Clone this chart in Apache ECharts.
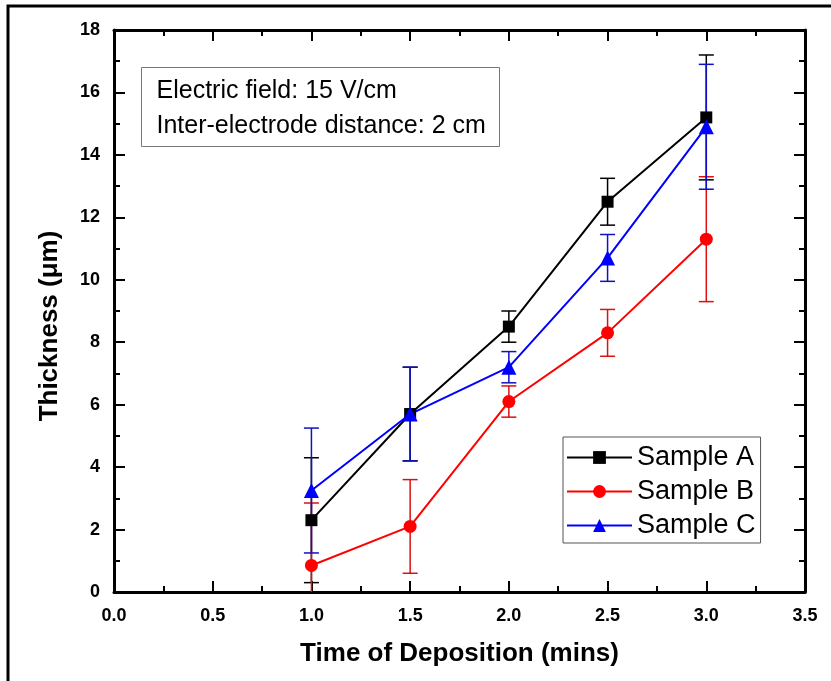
<!DOCTYPE html>
<html>
<head>
<meta charset="utf-8">
<title>Thickness vs time</title>
<script src="https://cdn.jsdelivr.net/npm/echarts@6/dist/echarts.min.js"></script>
<style>
  html, body { margin: 0; padding: 0; background: #fff; }
  #chart { width: 831px; height: 681px; }
</style>
</head>
<body>
<div id="chart"></div>
<script>
// time of deposition (mins)
var times = [1.0, 1.5, 2.0, 2.5, 3.0];
// thickness (um) and error half-widths
var sampleA = [2.3, 5.7, 8.5, 12.5, 15.2];
var errA    = [2.0, 1.5, 0.5, 0.75, 2.0];
var sampleB = [0.85, 2.1, 6.1, 8.3, 11.3];
var errB    = [2.0, 1.5, 0.5, 0.75, 2.0];
var sampleC = [3.25, 5.7, 7.2, 10.7, 14.9];
var errC    = [2.0, 1.5, 0.5, 0.75, 2.0];
var noteLines = ['Electric field: 15 V/cm', 'Inter-electrode distance: 2 cm'];

var FONT = 'Liberation Sans, Arial, sans-serif';

function pairs(vals) {
  return times.map(function (t, i) { return [t, vals[i]]; });
}
function errData(vals, errs) {
  return times.map(function (t, i) { return [t, vals[i] - errs[i], vals[i] + errs[i]]; });
}
function errSeries(name, vals, errs, color) {
  return {
    type: 'custom',
    name: name + ' err',
    data: errData(vals, errs),
    z: 1,
    clip: true,
    renderItem: function (params, api) {
      var x = api.value(0);
      var lo = api.coord([x, api.value(1)]);
      var hi = api.coord([x, api.value(2)]);
      var w = 7.5;
      var st = { stroke: color, lineWidth: 1.5 };
      return {
        type: 'group',
        children: [
          { type: 'line', shape: { x1: lo[0], y1: lo[1], x2: hi[0], y2: hi[1] }, style: st },
          { type: 'line', shape: { x1: lo[0] - w, y1: lo[1], x2: lo[0] + w, y2: lo[1] }, style: st },
          { type: 'line', shape: { x1: hi[0] - w, y1: hi[1], x2: hi[0] + w, y2: hi[1] }, style: st }
        ]
      };
    }
  };
}
function lineSeries(name, vals, color, symbol, size) {
  return {
    type: 'line',
    name: name,
    data: pairs(vals),
    z: 3,
    symbol: symbol,
    symbolSize: size,
    showAllSymbol: true,
    lineStyle: { color: color, width: 2 },
    itemStyle: { color: color },
    emphasis: { disabled: true }
  };
}

var axisLine = { show: true, onZero: false, lineStyle: { color: '#000', width: 3 } };
var tickStyle = { show: true, inside: true, length: 11, lineStyle: { color: '#000', width: 2 } };
var minorStyle = { show: true, splitNumber: 2, length: 6, lineStyle: { color: '#000', width: 2 } };
var labelStyle = { color: '#000', fontFamily: FONT, fontWeight: 'bold', fontSize: 18 };

var chart = echarts.init(document.getElementById('chart'), null, { renderer: 'canvas' });
chart.setOption({
  animation: false,
  backgroundColor: '#fff',
  grid: { left: 114, right: 26, top: 30, bottom: 89 },
  xAxis: [{
    type: 'value', min: 0, max: 3.5, interval: 0.5, position: 'bottom',
    name: 'Time of Deposition (mins)', nameLocation: 'middle', nameGap: 49,
    nameTextStyle: { color: '#000', fontFamily: FONT, fontWeight: 'bold', fontSize: 26 },
    axisLine: axisLine, axisTick: tickStyle, minorTick: minorStyle,
    splitLine: { show: false },
    axisLabel: Object.assign({ margin: 15, formatter: function (v) { return v.toFixed(1); } }, labelStyle)
  }, {
    type: 'value', min: 0, max: 3.5, interval: 0.5, position: 'top',
    axisLine: axisLine, axisTick: tickStyle, minorTick: minorStyle,
    splitLine: { show: false }, axisLabel: { show: false }
  }],
  yAxis: [{
    type: 'value', min: 0, max: 18, interval: 2, position: 'left',
    name: 'Thickness (\u03bcm)', nameLocation: 'middle', nameGap: 51, nameRotate: 90,
    nameTextStyle: { color: '#000', fontFamily: FONT, fontWeight: 'bold', fontSize: 26,
                     padding: [0, 30, 0, 0] },
    axisLine: axisLine, axisTick: tickStyle, minorTick: minorStyle,
    splitLine: { show: false },
    axisLabel: Object.assign({ margin: 14 }, labelStyle)
  }, {
    type: 'value', min: 0, max: 18, interval: 2, position: 'right',
    axisLine: axisLine, axisTick: tickStyle, minorTick: minorStyle,
    splitLine: { show: false }, axisLabel: { show: false }
  }],
  legend: {
    orient: 'vertical', left: 563, top: 437,
    data: ['Sample A', 'Sample B', 'Sample C'],
    backgroundColor: '#fff', borderColor: '#555', borderWidth: 1,
    padding: [7, 5, 4, 3], itemGap: 7, itemWidth: 65, itemHeight: 16,
    textStyle: { color: '#000', fontFamily: FONT, fontSize: 27 },
    selectedMode: false
  },
  graphic: [
    { type: 'rect', silent: true, z: 0,
      shape: { x: 8, y: 6, width: 900, height: 800 },
      style: { fill: 'none', stroke: '#000', lineWidth: 3 } },
    { type: 'group', left: 141, top: 67, z: 10, children: [
      { type: 'rect', shape: { x: 0, y: 0, width: 358, height: 79 },
        style: { fill: '#fff', stroke: '#777', lineWidth: 1 } },
      { type: 'text', x: 15, y: 6,
        style: { text: noteLines.join('\n'), font: '25px ' + FONT, fill: '#000', lineHeight: 35 } }
    ] }
  ],
  series: [
    errSeries('Sample A', sampleA, errA, '#000'),
    errSeries('Sample B', sampleB, errB, '#dd1010'),
    errSeries('Sample C', sampleC, errC, '#1010c0'),
    lineSeries('Sample A', sampleA, '#000', 'rect', 12),
    lineSeries('Sample B', sampleB, '#ff0000', 'circle', 13),
    lineSeries('Sample C', sampleC, '#0000ff', 'triangle', 15)
  ]
});
</script>
</body>
</html>
